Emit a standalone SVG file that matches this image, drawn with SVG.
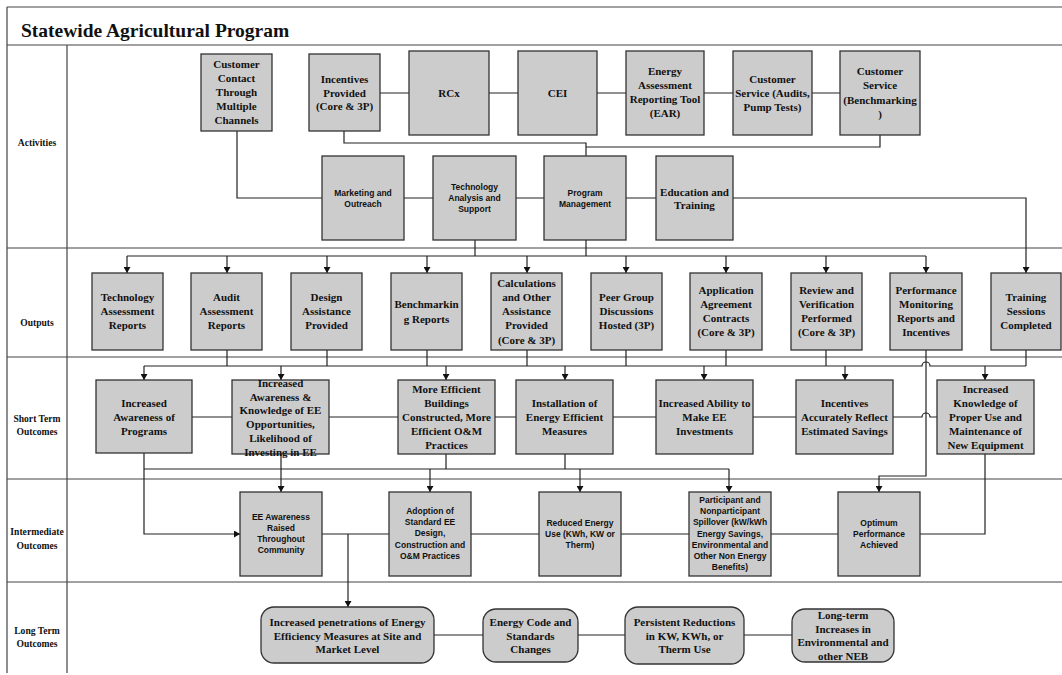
<svg xmlns="http://www.w3.org/2000/svg" width="1062" height="675" viewBox="0 0 1062 675">
<defs>
<marker id="ah" markerUnits="userSpaceOnUse" markerWidth="7" markerHeight="7" refX="6" refY="3.5" orient="auto">
<path d="M0,0 L6,3.5 L0,7 Z" fill="#111"/>
</marker>
<style>
.frame{stroke:#444;stroke-width:1.2;fill:none}
.box{fill:#cccccc;stroke:#333;stroke-width:1.3}
.s{font-family:"Liberation Serif","Times New Roman",serif;font-weight:bold;font-size:11px;fill:#111;text-anchor:middle;dominant-baseline:central}
.a{font-family:"Liberation Sans",Arial,sans-serif;font-weight:bold;font-size:8.5px;fill:#111;text-anchor:middle;dominant-baseline:central}
.lab{font-family:"Liberation Serif","Times New Roman",serif;font-weight:bold;font-size:9.6px;fill:#111;text-anchor:middle;dominant-baseline:central}
.c{stroke:#222;stroke-width:1.2;fill:none}
.ca{stroke:#222;stroke-width:1.2;fill:none;marker-end:url(#ah)}
</style>
</defs>
<rect width="1062" height="675" fill="#fff"/>
<g id="frame">
<path class="frame" d="M7,7 H1062 M7,7 V673 M67,45 V673 M7,45 H1062 M7,248 H1062 M7,357 H1062 M7,479 H1062 M7,582 H1062"/>
<text x="21" y="37" font-family="'Liberation Serif','Times New Roman',serif" font-weight="bold" font-size="19.5" fill="#111">Statewide Agricultural Program</text>
<text class="lab" x="37" y="142">Activities</text>
<text class="lab" x="37" y="322">Outputs</text>
<text class="lab"><tspan x="37" y="418">Short Term</tspan><tspan x="37" y="431">Outcomes</tspan></text>
<text class="lab"><tspan x="37" y="531">Intermediate</tspan><tspan x="37" y="545">Outcomes</tspan></text>
<text class="lab"><tspan x="37" y="630">Long Term</tspan><tspan x="37" y="643">Outcomes</tspan></text>
</g>
<g id="connectors">
<path class="c" d="M380,93 H409 M489,93 H518 M597,93 H626 M704,93 H733 M812,93 H840"/>
<path class="c" d="M237,131 V198 H322 M404,198 H433 M516,198 H544 M626,198 H656"/>
<path class="c" d="M344,131 V143 H586 V156 M880,135 V147 H586"/>
<path class="ca" d="M733,198 H1026 V273"/>
<path class="c" d="M475,240 V256 M586,240 V256 M127,256 H926"/>
<path class="ca" d="M127,256 V273"/><path class="ca" d="M227,256 V273"/><path class="ca" d="M327,256 V273"/>
<path class="ca" d="M427,256 V273"/><path class="ca" d="M527,256 V273"/><path class="ca" d="M626,256 V273"/>
<path class="ca" d="M726,256 V273"/><path class="ca" d="M826,256 V273"/><path class="ca" d="M926,256 V273"/>
<path class="c" d="M227,350 V366 M327,350 V366 M427,350 V366 M527,350 V366 M626,350 V366 M726,350 V366 M826,350 V366 M1026,350 V366"/>
<path class="c" d="M144,366 H922 A4,4 0 0 1 930,366 H1026"/>
<path class="ca" d="M144,366 V380"/><path class="ca" d="M281,366 V380"/><path class="ca" d="M446,366 V380"/>
<path class="ca" d="M565,366 V380"/><path class="ca" d="M704,366 V380"/><path class="ca" d="M845,366 V380"/>
<path class="ca" d="M985,366 V380"/>
<path class="c" d="M192,417 H232 M329,417 H398 M495,417 H516 M613,417 H656 M753,417 H796 M893,417 H922 A4,4 0 0 1 930,417 H937"/>
<path class="ca" d="M144,453 V534 H240"/>
<path class="ca" d="M281,453 V492"/>
<path class="c" d="M144,469 H729 M446,453 V469 M565,453 V469 H580"/>
<path class="ca" d="M430,469 V492"/><path class="ca" d="M580,469 V492"/><path class="ca" d="M729,469 V492"/>
<path class="ca" d="M926,350 V476 H879 V492"/>
<path class="c" d="M322,534 H389 M471,534 H539 M621,534 H689 M771,534 H838 M920,534 H985 V453"/>
<path class="ca" d="M348,534 V607"/>
<path class="c" d="M434,635 H483 M578,635 H625 M744,635 H792"/>
</g>
<g id="n-customer-contact"><rect class="box" x="201" y="54" width="71" height="77"/><text class="s"><tspan x="236.5" y="64">Customer</tspan><tspan x="236.5" y="78">Contact</tspan><tspan x="236.5" y="92">Through</tspan><tspan x="236.5" y="106">Multiple</tspan><tspan x="236.5" y="120">Channels</tspan></text></g>
<g id="n-incentives"><rect class="box" x="309" y="54" width="71" height="77"/><text class="s"><tspan x="344.5" y="79">Incentives</tspan><tspan x="344.5" y="92.5">Provided</tspan><tspan x="344.5" y="106">(Core &amp; 3P)</tspan></text></g>
<g id="n-rcx"><rect class="box" x="409" y="51" width="80" height="84"/><text class="s" x="449" y="93">RCx</text></g>
<g id="n-cei"><rect class="box" x="518" y="51" width="79" height="84"/><text class="s" x="557.5" y="93">CEI</text></g>
<g id="n-ear"><rect class="box" x="626" y="51" width="78" height="84"/><text class="s"><tspan x="665" y="71">Energy</tspan><tspan x="665" y="85">Assessment</tspan><tspan x="665" y="99">Reporting Tool</tspan><tspan x="665" y="113">(EAR)</tspan></text></g>
<g id="n-cs-audits"><rect class="box" x="733" y="51" width="79" height="84"/><text class="s"><tspan x="772.5" y="79">Customer</tspan><tspan x="772.5" y="93">Service (Audits,</tspan><tspan x="772.5" y="107">Pump Tests)</tspan></text></g>
<g id="n-cs-bench"><rect class="box" x="840" y="51" width="80" height="84"/><text class="s"><tspan x="880" y="71">Customer</tspan><tspan x="880" y="85">Service</tspan><tspan x="880" y="99.5">(Benchmarking</tspan><tspan x="880" y="114">)</tspan></text></g>
<g id="n-marketing"><rect class="box" x="322" y="156" width="82" height="84"/><text class="a"><tspan x="363" y="192.5">Marketing and</tspan><tspan x="363" y="203.5">Outreach</tspan></text></g>
<g id="n-tech-analysis"><rect class="box" x="433" y="156" width="83" height="84"/><text class="a"><tspan x="474.5" y="187">Technology</tspan><tspan x="474.5" y="198">Analysis and</tspan><tspan x="474.5" y="209">Support</tspan></text></g>
<g id="n-program-mgmt"><rect class="box" x="544" y="156" width="82" height="84"/><text class="a"><tspan x="585" y="192.5">Program</tspan><tspan x="585" y="203.5">Management</tspan></text></g>
<g id="n-education"><rect class="box" x="656" y="156" width="77" height="84"/><text class="s"><tspan x="694.5" y="192">Education and</tspan><tspan x="694.5" y="205">Training</tspan></text></g>
<g id="n-tech-reports"><rect class="box" x="92" y="273" width="71" height="77"/><text class="s"><tspan x="127.5" y="297">Technology</tspan><tspan x="127.5" y="311">Assessment</tspan><tspan x="127.5" y="325">Reports</tspan></text></g>
<g id="n-audit-reports"><rect class="box" x="191" y="273" width="71" height="77"/><text class="s"><tspan x="226.5" y="297">Audit</tspan><tspan x="226.5" y="311">Assessment</tspan><tspan x="226.5" y="325">Reports</tspan></text></g>
<g id="n-design"><rect class="box" x="291" y="273" width="71" height="77"/><text class="s"><tspan x="326.5" y="297">Design</tspan><tspan x="326.5" y="311">Assistance</tspan><tspan x="326.5" y="325">Provided</tspan></text></g>
<g id="n-bench-reports"><rect class="box" x="391" y="273" width="71" height="77"/><text class="s"><tspan x="426.5" y="304">Benchmarkin</tspan><tspan x="426.5" y="318.5">g Reports</tspan></text></g>
<g id="n-calculations"><rect class="box" x="491" y="273" width="71" height="77"/><text class="s"><tspan x="526.5" y="283">Calculations</tspan><tspan x="526.5" y="297">and Other</tspan><tspan x="526.5" y="311">Assistance</tspan><tspan x="526.5" y="325">Provided</tspan><tspan x="526.5" y="339.5">(Core &amp; 3P)</tspan></text></g>
<g id="n-peer"><rect class="box" x="591" y="273" width="71" height="77"/><text class="s"><tspan x="626.5" y="297">Peer Group</tspan><tspan x="626.5" y="311">Discussions</tspan><tspan x="626.5" y="325">Hosted (3P)</tspan></text></g>
<g id="n-application"><rect class="box" x="690" y="273" width="72" height="77"/><text class="s"><tspan x="726" y="290">Application</tspan><tspan x="726" y="304">Agreement</tspan><tspan x="726" y="318">Contracts</tspan><tspan x="726" y="332">(Core &amp; 3P)</tspan></text></g>
<g id="n-review"><rect class="box" x="791" y="273" width="71" height="77"/><text class="s"><tspan x="826.5" y="290">Review and</tspan><tspan x="826.5" y="304">Verification</tspan><tspan x="826.5" y="318">Performed</tspan><tspan x="826.5" y="332">(Core &amp; 3P)</tspan></text></g>
<g id="n-performance"><rect class="box" x="890" y="273" width="72" height="77"/><text class="s"><tspan x="926" y="290">Performance</tspan><tspan x="926" y="304">Monitoring</tspan><tspan x="926" y="318">Reports and</tspan><tspan x="926" y="332">Incentives</tspan></text></g>
<g id="n-training"><rect class="box" x="991" y="273" width="70" height="77"/><text class="s"><tspan x="1026" y="297">Training</tspan><tspan x="1026" y="311">Sessions</tspan><tspan x="1026" y="325">Completed</tspan></text></g>
<g id="n-awareness-programs"><rect class="box" x="96" y="380" width="96" height="73"/><text class="s"><tspan x="144" y="403">Increased</tspan><tspan x="144" y="417">Awareness of</tspan><tspan x="144" y="431">Programs</tspan></text></g>
<g id="n-awareness-knowledge"><rect class="box" x="232" y="380" width="97" height="74"/><text class="s"><tspan x="280.5" y="383">Increased</tspan><tspan x="280.5" y="396.5">Awareness &amp;</tspan><tspan x="280.5" y="410">Knowledge of EE</tspan><tspan x="280.5" y="424">Opportunities,</tspan><tspan x="280.5" y="438">Likelihood of</tspan><tspan x="280.5" y="452">Investing in EE</tspan></text></g>
<g id="n-efficient-buildings"><rect class="box" x="398" y="380" width="97" height="74"/><text class="s"><tspan x="446.5" y="389">More Efficient</tspan><tspan x="446.5" y="403">Buildings</tspan><tspan x="446.5" y="417">Constructed, More</tspan><tspan x="446.5" y="431">Efficient O&amp;M</tspan><tspan x="446.5" y="445">Practices</tspan></text></g>
<g id="n-installation"><rect class="box" x="516" y="380" width="97" height="74"/><text class="s"><tspan x="564.5" y="403">Installation of</tspan><tspan x="564.5" y="417">Energy Efficient</tspan><tspan x="564.5" y="431">Measures</tspan></text></g>
<g id="n-ability"><rect class="box" x="656" y="380" width="97" height="74"/><text class="s"><tspan x="704.5" y="403">Increased Ability to</tspan><tspan x="704.5" y="417">Make EE</tspan><tspan x="704.5" y="431">Investments</tspan></text></g>
<g id="n-incentives-reflect"><rect class="box" x="796" y="380" width="97" height="74"/><text class="s"><tspan x="844.5" y="403">Incentives</tspan><tspan x="844.5" y="417">Accurately Reflect</tspan><tspan x="844.5" y="431">Estimated Savings</tspan></text></g>
<g id="n-proper-use"><rect class="box" x="937" y="380" width="97" height="74"/><text class="s"><tspan x="985.5" y="389">Increased</tspan><tspan x="985.5" y="403">Knowledge of</tspan><tspan x="985.5" y="417">Proper Use and</tspan><tspan x="985.5" y="431">Maintenance of</tspan><tspan x="985.5" y="445">New Equipment</tspan></text></g>
<g id="n-ee-awareness"><rect class="box" x="240" y="492" width="82" height="84"/><text class="a"><tspan x="281" y="517">EE Awareness</tspan><tspan x="281" y="528">Raised</tspan><tspan x="281" y="539">Throughout</tspan><tspan x="281" y="550">Community</tspan></text></g>
<g id="n-adoption"><rect class="box" x="389" y="492" width="82" height="84"/><text class="a"><tspan x="430" y="511">Adoption of</tspan><tspan x="430" y="522">Standard EE</tspan><tspan x="430" y="533">Design,</tspan><tspan x="430" y="545">Construction and</tspan><tspan x="430" y="556">O&amp;M Practices</tspan></text></g>
<g id="n-reduced"><rect class="box" x="539" y="492" width="82" height="84"/><text class="a"><tspan x="580" y="523">Reduced Energy</tspan><tspan x="580" y="534">Use (KWh, KW or</tspan><tspan x="580" y="545">Therm)</tspan></text></g>
<g id="n-spillover"><rect class="box" x="689" y="492" width="82" height="84"/><text class="a"><tspan x="730" y="500">Participant and</tspan><tspan x="730" y="511">Nonparticipant</tspan><tspan x="730" y="522">Spillover (kW/kWh</tspan><tspan x="730" y="534">Energy Savings,</tspan><tspan x="730" y="545">Environmental and</tspan><tspan x="730" y="556">Other Non Energy</tspan><tspan x="730" y="567">Benefits)</tspan></text></g>
<g id="n-optimum"><rect class="box" x="838" y="492" width="82" height="84"/><text class="a"><tspan x="879" y="523">Optimum</tspan><tspan x="879" y="534">Performance</tspan><tspan x="879" y="545">Achieved</tspan></text></g>
<g id="n-penetrations"><rect class="box" x="261" y="607" width="173" height="56" rx="13"/><text class="s"><tspan x="347.5" y="622">Increased penetrations of Energy</tspan><tspan x="347.5" y="635.5">Efficiency Measures at Site and</tspan><tspan x="347.5" y="649">Market Level</tspan></text></g>
<g id="n-energy-code"><rect class="box" x="483" y="609" width="95" height="53" rx="13"/><text class="s"><tspan x="530.5" y="622">Energy Code and</tspan><tspan x="530.5" y="635.5">Standards</tspan><tspan x="530.5" y="649">Changes</tspan></text></g>
<g id="n-persistent"><rect class="box" x="625" y="607" width="119" height="57" rx="13"/><text class="s"><tspan x="684.5" y="622">Persistent Reductions</tspan><tspan x="684.5" y="635.5">in KW, KWh, or</tspan><tspan x="684.5" y="649">Therm Use</tspan></text></g>
<g id="n-long-term"><rect class="box" x="792" y="609" width="102" height="53" rx="13"/><text class="s"><tspan x="843" y="614.5">Long-term</tspan><tspan x="843" y="628.5">Increases in</tspan><tspan x="843" y="642">Environmental and</tspan><tspan x="843" y="656">other NEB</tspan></text></g>
</svg>
